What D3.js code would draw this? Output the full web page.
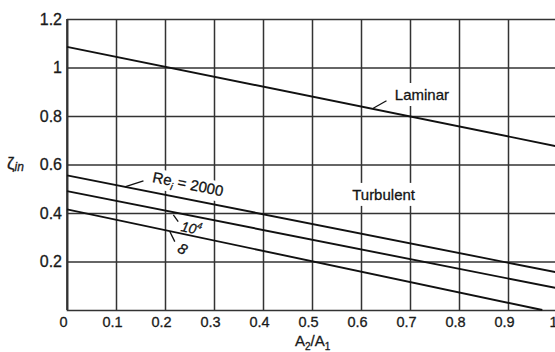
<!DOCTYPE html>
<html>
<head>
<meta charset="utf-8">
<script src="https://cdn.jsdelivr.net/npm/d3@7"></script>
<style>
  html, body { margin: 0; padding: 0; background: #fff; }
  svg { display: block; font-family: "Liberation Sans", Arial, Helvetica, sans-serif; }
  svg text { stroke: #1a1a1a; stroke-width: 0.3px; }
</style>
</head>
<body>
<svg id="chart" width="555" height="352"></svg>
<script>
// Entrance loss coefficient vs. area ratio
const xTicks = [0, 0.1, 0.2, 0.3, 0.4, 0.5, 0.6, 0.7, 0.8, 0.9, 1];
const yTicks = [0.2, 0.4, 0.6, 0.8, 1, 1.2];
const xTickLabels = ["0", "0.1", "0.2", "0.3", "0.4", "0.5", "0.6", "0.7", "0.8", "0.9", "1"];
const yTickLabels = ["0.2", "0.4", "0.6", "0.8", "1", "1.2"];

// Each curve: area ratio A2/A1 and loss coefficient at its end points
const laminarX = [0, 1];
const laminarY = [1.085, 0.675];
const re2000X = [0, 1];
const re2000Y = [0.555, 0.155];
const re1e4X = [0, 1];
const re1e4Y = [0.49, 0.09];
const reInfX = [0, 0.97];
const reInfY = [0.415, 0.0];

const svg = d3.select("#chart");
const x = d3.scaleLinear().domain([0, 1]).range([67, 557]);
const y = d3.scaleLinear().domain([0, 1.2]).range([310, 19]);
const plotW = x(1) - x(0);
const plotH = y(0) - y(1.2);

const gridColor = "#333";

// Horizontal grid + y tick labels
const yAxis = svg.append("g")
  .attr("transform", `translate(${x(0)},0)`)
  .call(d3.axisLeft(y).tickValues(yTicks)
    .tickFormat((d, i) => yTickLabels[i])
    .tickSize(-plotW).tickPadding(5));
yAxis.select(".domain").remove();
yAxis.selectAll("line").attr("stroke", gridColor).attr("stroke-width", 1.5);
yAxis.selectAll("text").attr("font-size", 16).attr("fill", "#1a1a1a")
  .attr("font-family", "'Liberation Sans', Arial, sans-serif");

// Vertical grid + x tick labels
const xAxis = svg.append("g")
  .attr("transform", `translate(0,${y(0)})`)
  .call(d3.axisBottom(x).tickValues(xTicks)
    .tickFormat((d, i) => xTickLabels[i])
    .tickSize(-plotH).tickPadding(7));
xAxis.select(".domain").attr("stroke", gridColor).attr("stroke-width", 1.6);
xAxis.selectAll("line").attr("stroke", gridColor).attr("stroke-width", 1.5);
xAxis.selectAll("text").attr("font-size", 14.5).attr("fill", "#1a1a1a")
  .attr("dx", -4)
  .attr("font-family", "'Liberation Sans', Arial, sans-serif");

// Left frame line
svg.append("line")
  .attr("x1", x(0)).attr("x2", x(0)).attr("y1", y(0)).attr("y2", y(1.2))
  .attr("stroke", gridColor).attr("stroke-width", 1.6);

// Annotation layer: labels sit on white boxes that break the grid
const ann = svg.append("g");

function label(px, py, angle, build, pad) {
  const g = ann.append("g")
    .attr("transform", `translate(${x(px)},${y(py)}) rotate(${angle})`);
  const bg = g.append("rect").attr("fill", "#fff");
  const t = g.append("text").attr("fill", "#111");
  build(t);
  const b = t.node().getBBox();
  bg.attr("x", b.x - pad[0]).attr("y", b.y - pad[1])
    .attr("width", b.width + 2 * pad[0]).attr("height", b.height + 2 * pad[1]);
  return g;
}

label(0.669, 0.866, 0, t => {
  t.attr("font-size", 15).text("Laminar");
}, [4, 3]);

label(0.582, 0.454, 0, t => {
  t.attr("font-size", 15).text("Turbulent");
}, [3, 3]);

label(0.173, 0.528, 11.5, t => {
  t.attr("font-size", 15);
  t.append("tspan").text("Re");
  t.append("tspan").attr("font-style", "italic").attr("font-size", 10)
    .attr("dy", 4).text("i");
  t.append("tspan").attr("dy", -4).text(" = 2000");
}, [2, 0]);

label(0.231, 0.326, 11.5, t => {
  t.attr("font-size", 14).attr("font-style", "italic");
  t.append("tspan").text("10");
  t.append("tspan").attr("font-size", 9).attr("dy", -6).text("4");
}, [1, 0]);

label(0.236, 0.252, 28, t => {
  t.attr("font-size", 15).attr("font-style", "italic")
    .attr("text-anchor", "middle").attr("dy", "0.35em").text("8");
}, [1, 0]);

// Curves
const line = d3.line().x(d => x(d[0])).y(d => y(d[1]));
const curves = [
  [laminarX, laminarY],
  [re2000X, re2000Y],
  [re1e4X, re1e4Y],
  [reInfX, reInfY]
];
svg.append("g").selectAll("path")
  .data(curves.map(([xs, ys]) => xs.map((v, i) => [v, ys[i]])))
  .join("path")
  .attr("d", line)
  .attr("fill", "none")
  .attr("stroke", "#111")
  .attr("stroke-width", 1.9);

// Leader lines from labels to curves
const leaders = [
  [[0.625, 0.832], [0.652, 0.863]],
  [[0.118, 0.508], [0.156, 0.532]],
  [[0.217, 0.392], [0.227, 0.364]],
  [[0.210, 0.323], [0.220, 0.282]]
];
svg.append("g").selectAll("path")
  .data(leaders)
  .join("path")
  .attr("d", line)
  .attr("fill", "none")
  .attr("stroke", "#111")
  .attr("stroke-width", 1.3);

// Axis titles
const yt = svg.append("text")
  .attr("x", 7).attr("y", 169)
  .attr("font-size", 17).attr("fill", "#1a1a1a");
yt.append("tspan").text("ζ");
yt.append("tspan").attr("font-style", "italic").attr("font-size", 12).attr("dy", 2).text("in");

const xt = svg.append("text")
  .attr("x", 295).attr("y", 346)
  .attr("font-size", 15).attr("fill", "#1a1a1a");
xt.append("tspan").text("A");
xt.append("tspan").attr("font-size", 10).attr("dy", 4).text("2");
xt.append("tspan").attr("dy", -4).text("/A");
xt.append("tspan").attr("font-size", 10).attr("dy", 4).text("1");
</script>
</body>
</html>
